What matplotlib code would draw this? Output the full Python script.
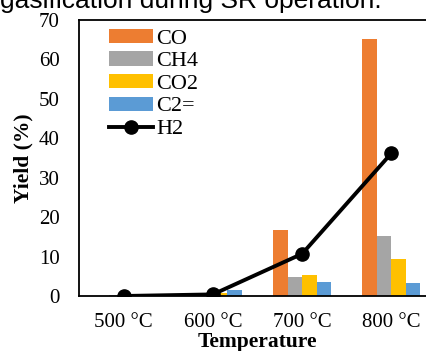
import numpy as np
import matplotlib
matplotlib.use("Agg")
import matplotlib.pyplot as plt

temps = ["500 °C", "600 °C", "700 °C", "800 °C"]
co = [0.1, 0.3, 16.8, 65.2]
ch4 = [0.2, 0.5, 4.8, 15.1]
co2 = [0.1, 0.7, 5.3, 9.5]
c2 = [0.3, 1.6, 3.6, 3.4]
h2 = [0.0, 0.4, 10.7, 36.2]

plt.rcParams['font.family'] = ['Liberation Serif', 'DejaVu Serif']

fig = plt.figure(figsize=(4.26, 3.51), dpi=100)
ax = fig.add_axes([79 / 426, 55 / 351, 357 / 426, 276 / 351])

x = np.arange(len(temps))
w = 0.163
series = [(co, '#ED7D31', 'CO'), (ch4, '#A5A5A5', 'CH4'),
          (co2, '#FFC000', 'CO2'), (c2, '#5B9BD5', 'C2=')]
handles = []
for i, (vals, col, lab) in enumerate(series):
    handles.append(ax.bar(x + (i - 1.5) * w, vals, w, color=col, label=lab, zorder=2))

line, = ax.plot(x, h2, color='black', lw=2.8, marker='o', ms=9.5, label='H2', zorder=3)
handles.append(line)

ax.set_xlim(-0.5, 3.5)
ax.set_ylim(0, 70)
ax.set_yticks(range(0, 71, 10))
ax.set_xticks(x)
ax.set_xticklabels(temps)
ax.tick_params(axis='both', length=0, labelsize=15)
ax.tick_params(axis='y', pad=14)
ax.tick_params(axis='x', pad=12)
for s in ax.spines.values():
    s.set_linewidth(1.3)

ax.set_xlabel('Temperature', fontsize=15.5, fontweight='bold', labelpad=0)
ax.set_ylabel('Yield (%)', fontsize=15.5, fontweight='bold', labelpad=4)

ax.legend(handles=handles, loc='upper left', bbox_to_anchor=(0.058, 1.0),
          frameon=False, fontsize=16, handlelength=2.0, handleheight=0.6,
          labelspacing=0.12, handletextpad=0.15, borderaxespad=0)

fig.text(0.0, (351 - 8) / 351, 'gasification during SR operation.',
         family='Liberation Sans', fontsize=19, va='baseline', ha='left')

fig.savefig('out.png', dpi=100)
